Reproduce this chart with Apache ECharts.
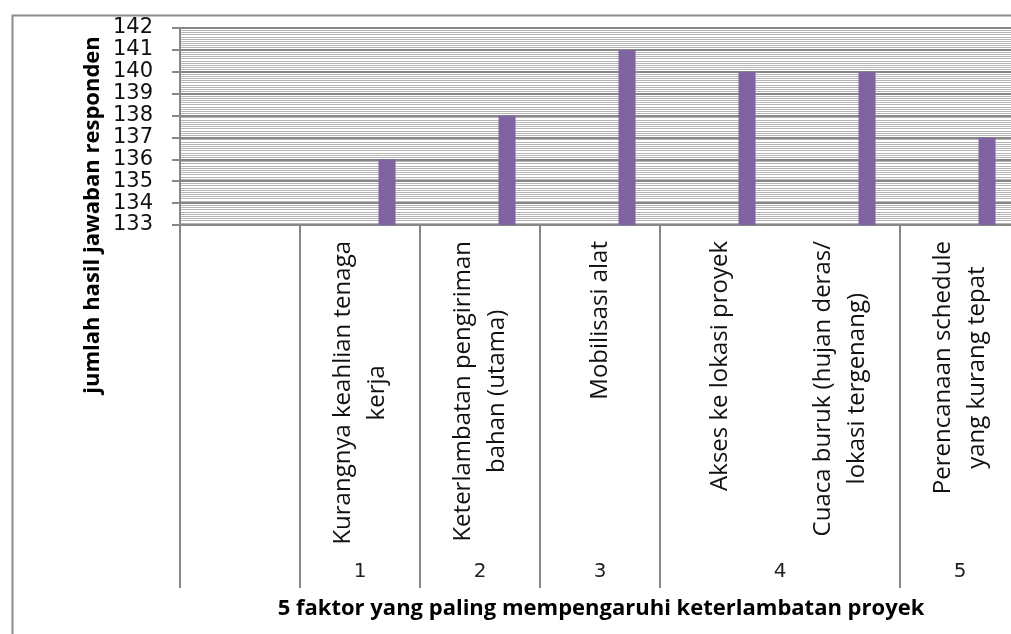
<!DOCTYPE html>
<html>
<head>
<meta charset="utf-8">
<script src="https://cdn.jsdelivr.net/npm/echarts@6/dist/echarts.min.js"></script>
<style>
html,body{margin:0;padding:0;background:#fff;}
#chart{width:1011px;height:634px;}
</style>
</head>
<body>
<div id="chart"></div>
<script>
// ---- data ----
const categories = ['', 'Kurangnya keahlian tenaga\nkerja', 'Keterlambatan pengiriman\nbahan (utama)', 'Mobilisasi alat', 'Akses ke lokasi proyek', 'Cuaca buruk (hujan deras/\nlokasi tergenang)', 'Perencanaan schedule\nyang kurang tepat'];
const values = [null, 136, 138, 141, 140, 140, 137];
const groupLabels = ['1', '2', '3', '4', '5'];
const groupSpans = [1, 1, 1, 2, 1];
const groupStart = 1;
const yMin = 133, yMax = 142, yInterval = 1;
const yTitle = 'jumlah hasil jawaban responden';
const xTitle = '5 faktor yang paling mempengaruhi keterlambatan proyek';

// build half-slot axis for group labels & separators
const halfCount = categories.length * 2 + 1;
const halfData = new Array(halfCount).fill('');
const sepIdx = new Set([0, categories.length * 2]);
let s = groupStart;
groupLabels.forEach((g, i) => {
  sepIdx.add(2 * s);
  halfData[2 * s + groupSpans[i]] = g;
  s += groupSpans[i];
});
sepIdx.add(2 * s);
const emptySeries = categories.map(() => null);

const gray = '#878787';
const chart = echarts.init(document.getElementById('chart'));
chart.setOption({
  animation: false,
  grid: {left: 180, top: 28, width: 840, height: 197, containLabel: false, outerBoundsMode: 'none'},
  xAxis: [{
    type: 'category',
    data: categories,
    axisLine: {show: true, lineStyle: {color: gray, width: 2}},
    axisTick: {show: false},
    axisLabel: {
      interval: 0, rotate: 90, margin: 16, overflow: 'none', hideOverlap: false,
      fontFamily: 'Open Sans', fontSize: 24, color: '#111', lineHeight: 34,
      formatter: v => v ? v.split('\n').map(l => '{c|' + l + '}').join('\n') : '',
      rich: {c: {align: 'center', fontFamily: 'Open Sans', fontSize: 24, color: '#111', lineHeight: 34}}
    },
    splitLine: {show: false}
  }, {
    type: 'category',
    data: halfData,
    boundaryGap: false,
    position: 'bottom',
    axisLine: {show: false},
    axisTick: {show: true, length: 363, interval: (i) => sepIdx.has(i), lineStyle: {color: gray, width: 2}},
    axisLabel: {interval: 0, margin: 337, fontFamily: 'DejaVu Sans', fontSize: 20, color: '#222'},
    splitLine: {show: false}
  }],
  yAxis: {
    type: 'value', min: yMin, max: yMax, interval: yInterval,
    axisLine: {show: true, lineStyle: {color: gray, width: 2}},
    axisTick: {show: true, length: 8, lineStyle: {color: gray, width: 2}},
    axisLabel: {margin: 27, fontFamily: 'DejaVu Sans', fontSize: 21, color: '#111', padding: [3, 0, 0, 0]},
    splitLine: {show: true, lineStyle: {color: gray, width: 2}},
    minorTick: {show: false, splitNumber: 10},
    minorSplitLine: {show: true, lineStyle: {color: '#b4b4b4', width: 1}}
  },
  series: [{
    type: 'bar', data: emptySeries, barWidth: 17, barGap: '218%'
  }, {
    type: 'bar', data: values, barWidth: 17, barGap: '218%',
    itemStyle: {color: '#8064A2'}
  }],
  graphic: [{
    type: 'rect', left: 10, top: 13, z: -10, silent: true,
    shape: {width: 1100, height: 700},
    style: {fill: 'none', stroke: '#8c8c8c', lineWidth: 2}
  }, {
    type: 'text', x: 93, y: 215, rotation: Math.PI / 2,
    style: {text: yTitle, font: 'bold 22px "Open Sans"', fill: '#000', textAlign: 'center', textVerticalAlign: 'middle'}
  }, {
    type: 'text', x: 601, y: 609,
    style: {text: xTitle, font: 'bold 22px "Open Sans"', fill: '#000', textAlign: 'center', textVerticalAlign: 'middle'}
  }]
});
</script>
</body>
</html>
